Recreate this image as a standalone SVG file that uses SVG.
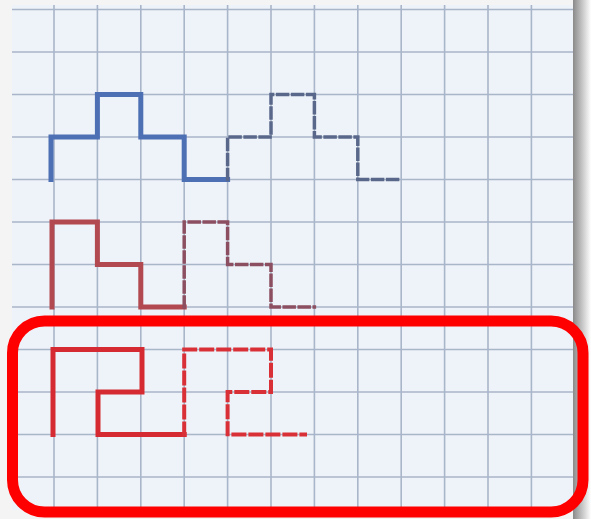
<svg xmlns="http://www.w3.org/2000/svg" width="591" height="519" viewBox="0 0 591 519">
<defs>
<linearGradient id="shR" x1="0" y1="0" x2="1" y2="0">
<stop offset="0" stop-color="#8a8a8a"/>
<stop offset="1" stop-color="#ffffff"/>
</linearGradient>
<style>
.g{stroke:#a9b5c9;stroke-width:1.6;fill:none}
.p{fill:none;stroke-linecap:square;stroke-linejoin:miter}
.bs{stroke:#4d6fb4;stroke-width:5}
.bd{stroke:#59688a;stroke-width:3.5;stroke-dasharray:10 5}
.ms{stroke:#b24850;stroke-width:5}
.md{stroke:#8c4f62;stroke-width:3.5;stroke-dasharray:10 5}
.rs{stroke:#d52a32;stroke-width:5}
.rd{stroke:#d93038;stroke-width:4;stroke-dasharray:11 6}
</style>
</defs>
<rect width="591" height="519" fill="#f4f4f4"/>
<rect x="573" y="0" width="18" height="519" fill="url(#shR)"/>
<rect x="12" y="5" width="561" height="505" fill="#eef3f9"/>
<g id="grid">
<path class="g" d="M54 5V510M97.4 5V510M140.8 5V510M184.2 5V510M227.6 5V510M271 5V510M314.4 5V510M357.8 5V510M401.2 5V510M444.6 5V510M488 5V510M531.4 5V510"/>
<path class="g" d="M12 9.5H573M12 52H573M12 94.5H573M12 137H573M12 179.5H573M12 222H573M12 264.5H573M12 307H573M12 349.5H573M12 392H573M12 434.5H573M12 477H573"/>
</g>
<g id="connectors">
<path id="blue-solid" class="p bs" d="M51 179.5V137H97.4V94.5H140.8V137H184.2V179.5H227.6"/>
<path id="blue-dashed" class="p bd" d="M227.6 179.5V137H271V94.5H314.4V137H357.8V179.5H401.2"/>
<path id="mid-solid" class="p ms" d="M52 307V222H97.4V264.5H140.8V307H184.2"/>
<path id="mid-dashed" class="p md" d="M184.2 307V222H227.6V264.5H271V307H314.4"/>
<path id="red-solid" class="p rs" d="M53 434.5V349.5H142V392H98V434.5H184.2"/>
<path id="red-dashed" class="p rd" d="M184.2 434.5V349.5H271V392H227.6V434.5H305"/>
</g>
<rect id="highlight" x="12.5" y="321" width="570.5" height="191" rx="32" fill="none" stroke="#ff0000" stroke-width="11"/>
</svg>
